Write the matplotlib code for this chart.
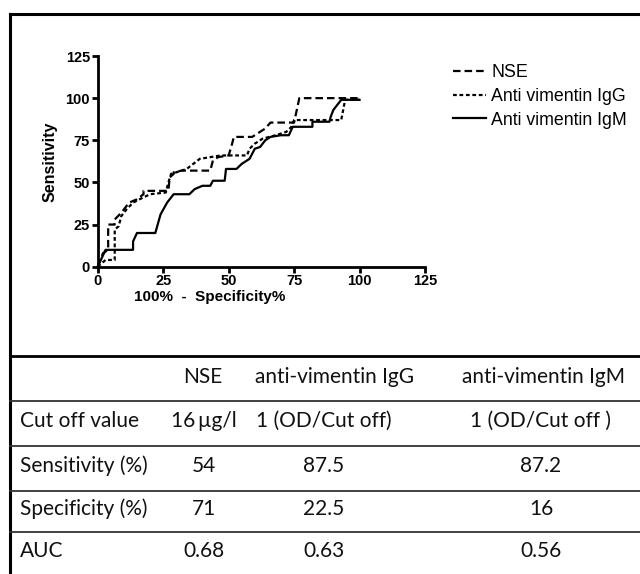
import matplotlib
matplotlib.use('Agg')
import matplotlib.pyplot as plt
from matplotlib.lines import Line2D

# ROC curve vertices (x = 100% - Specificity%, y = Sensitivity)
nse_x = [0, 2, 4, 4, 6.5, 6.5, 9, 10.5, 12, 15, 17.5, 17.5, 27, 27.5, 29, 29, 32, 43, 44, 46, 50, 51, 52, 59, 62, 64, 66, 75, 77, 100]
nse_y = [0, 8, 10, 25, 25, 28, 32, 35, 38, 40, 43, 45, 45, 53, 55, 56, 57, 57, 63, 65, 66, 71, 77, 77, 80, 82, 85.5, 85.5, 100, 100]

igg_x = [0, 3, 6.5, 6.5, 8, 9, 11, 13.5, 16, 20, 26, 27, 28, 30, 34, 36.5, 39, 43, 47, 57, 58, 60, 63, 68, 72, 74, 75, 93, 94.5, 100]
igg_y = [0, 4, 4, 22, 24, 30, 34, 38, 40, 43, 44, 50, 55, 56, 58, 61, 64, 65, 66, 66, 70, 73, 76, 78, 80, 83, 87, 87, 99, 99]

igm_x = [0, 3, 13.5, 13.5, 15, 22, 24, 26.5, 29, 35, 37, 40, 43, 44, 48.5, 49, 53, 55, 58, 60, 62, 64, 66, 70, 73, 74.5, 82, 82, 88.5, 89, 90, 91.5, 93, 100]
igm_y = [0, 10, 10, 15, 20, 20, 31, 38, 43, 43, 46, 48, 48, 51, 51, 58, 58, 61, 64, 70, 71, 75, 77, 78, 78, 83, 83, 86, 86, 89, 93, 96, 99, 99]

series_labels = ['NSE', 'Anti vimentin IgG', 'Anti vimentin IgM']
ticks = [0, 25, 50, 75, 100, 125]

# table under the chart
col_headers = ['', 'NSE', 'anti-vimentin IgG', 'anti-vimentin IgM']
row_names = ['Cut off value', 'Sensitivity (%)', 'Specificity (%)', 'AUC']
nse_col = ['16\u2009µg/l', '54', '71', '0.68']
igg_col = ['1 (OD/Cut off)', '87.5', '22.5', '0.63']
igm_col = ['1 (OD/Cut off )', '87.2', '16', '0.56']

W, H = 640, 574
fig = plt.figure(figsize=(6.4, 5.74), dpi=100)


def fx(px):
    return px / W


def fy(py):
    return 1 - py / H


ax = fig.add_axes([fx(97.7), fy(266.7), fx(425) - fx(97.7), fy(56) - fy(266.7)])
ax.plot(nse_x, nse_y, color='black', lw=1.6, dashes=(3.4, 1.8), label=series_labels[0], clip_on=False)
ax.plot(igg_x, igg_y, color='black', lw=1.6, dashes=(1.7, 1.2), label=series_labels[1], clip_on=False)
ax.plot(igm_x, igm_y, color='black', lw=1.6, label=series_labels[2], clip_on=False)
ax.set_xlim(0, 125)
ax.set_ylim(0, 125)
ax.set_xticks(ticks)
ax.set_yticks(ticks)
for s in ['top', 'right']:
    ax.spines[s].set_visible(False)
for s in ['left', 'bottom']:
    ax.spines[s].set_linewidth(2)
ax.tick_params(direction='out', length=4, width=2, pad=1.5)
for lab in ax.get_xticklabels() + ax.get_yticklabels():
    lab.set_fontfamily('Liberation Sans')
    lab.set_fontweight('bold')
    lab.set_fontsize(10.5)
ax.set_ylabel('Sensitivity', fontfamily='Liberation Sans', fontweight='bold', fontsize=11.5, labelpad=6)
fig.text(fx(210), fy(297), '100%  -  Specificity%', ha='center', va='center',
         fontfamily='Liberation Sans', fontweight='bold', fontsize=11)

leg = ax.legend(loc='upper left', bbox_to_anchor=(fx(437), fy(48)), bbox_transform=fig.transFigure,
                frameon=False, handlelength=1.85, handletextpad=0.3, labelspacing=0.38,
                prop={'family': 'Liberation Sans', 'size': 12.8})

# outer frame (top and left)
fig.add_artist(Line2D([fx(10), 1], [fy(13.5), fy(13.5)], color='black', lw=2.2))
fig.add_artist(Line2D([fx(10), fx(10)], [fy(13.5), 0], color='black', lw=2.2))

# table rules
fig.add_artist(Line2D([fx(10), 1], [fy(356), fy(356)], color='black', lw=2.0))
for py in [401, 446, 491, 532]:
    fig.add_artist(Line2D([fx(10), 1], [fy(py), fy(py)], color='#333333', lw=1.3))

tfont = dict(family='Lato', fontsize=15, color='#111111', va='center')
head_x = [203, 335, 543]
col_x = [20, 204, 324, 541]
head_y = 377
row_y = [421, 466, 509, 551]
for cx, h in zip(head_x, col_headers[1:]):
    fig.text(fx(cx), fy(head_y), h, ha='center', **tfont)
for i, name in enumerate(row_names):
    fig.text(fx(col_x[0]), fy(row_y[i]), name, ha='left', **tfont)
    fig.text(fx(col_x[1]), fy(row_y[i]), nse_col[i], ha='center', **tfont)
    fig.text(fx(col_x[2]), fy(row_y[i]), igg_col[i], ha='center', **tfont)
    fig.text(fx(col_x[3]), fy(row_y[i]), igm_col[i], ha='center', **tfont)

fig.savefig('out.png', dpi=100)
